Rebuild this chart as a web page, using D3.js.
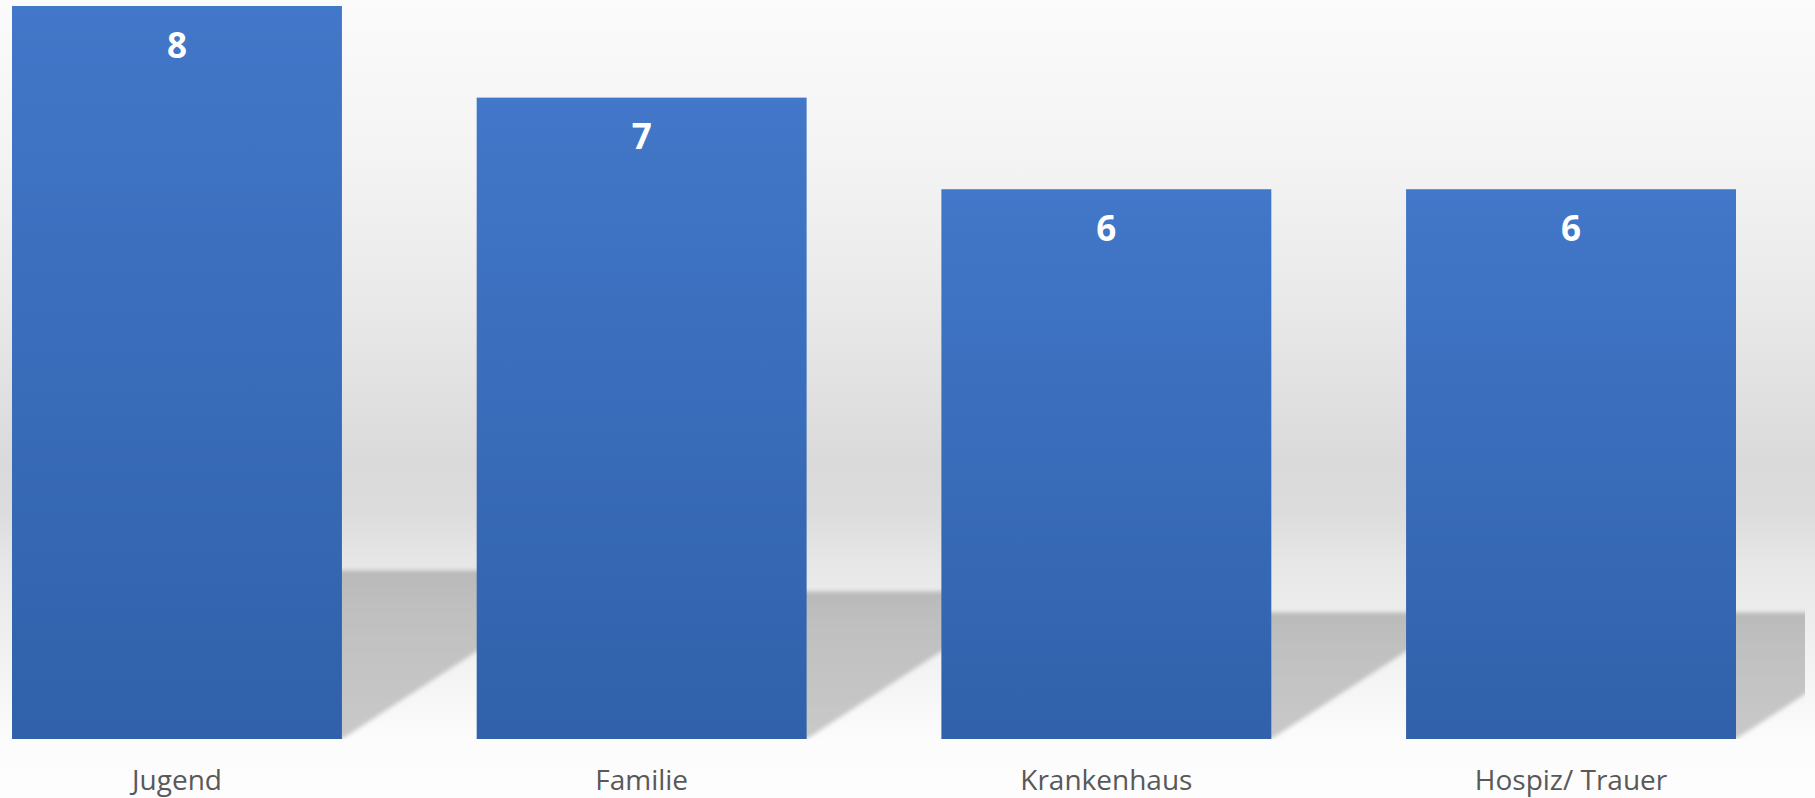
<!DOCTYPE html>
<html>
<head>
<meta charset="utf-8">
<script src="https://cdn.jsdelivr.net/npm/d3@7"></script>
<style>
  html, body { margin: 0; padding: 0; background: #ffffff; }
  svg { display: block; }
</style>
</head>
<body>
<svg id="chart" width="1815" height="798"></svg>
<script>
// Anzahl der Angebote je Bereich
const categories = ["Jugend", "Familie", "Krankenhaus", "Hospiz/ Trauer"];
const values = [8, 7, 6, 6];
const yMax = 8;

const W = 1815, H = 798;
const baseY = 739, topY = 6;

const svg = d3.select("#chart");
const defs = svg.append("defs");

// wall / floor background gradient
const bg = defs.append("linearGradient").attr("id", "bgGrad")
  .attr("x1", 0).attr("y1", 0).attr("x2", 0).attr("y2", 1);
[[0, "#fbfbfb"], [0.19, "#f4f4f4"], [0.38, "#e9e9e9"], [0.58, "#dadada"],
 [0.64, "#dcdcdc"], [0.70, "#e6e6e6"], [0.76, "#ececec"], [0.86, "#f5f5f5"],
 [0.93, "#fcfcfc"], [1, "#fdfdfd"]]
  .forEach(([o, c]) => bg.append("stop").attr("offset", o).attr("stop-color", c));

// bar fill gradient
const barGrad = defs.append("linearGradient").attr("id", "barGrad")
  .attr("x1", 0).attr("y1", 0).attr("x2", 0).attr("y2", 1);
barGrad.append("stop").attr("offset", 0).attr("stop-color", "#4277c9");
barGrad.append("stop").attr("offset", 1).attr("stop-color", "#3061aa");

// cast shadow gradient
const shGrad = defs.append("linearGradient").attr("id", "shGrad")
  .attr("x1", 0).attr("y1", 0).attr("x2", 0).attr("y2", 1);
shGrad.append("stop").attr("offset", 0).attr("stop-color", "#b9b9b9");
shGrad.append("stop").attr("offset", 0.2).attr("stop-color", "#bfbfbf");
shGrad.append("stop").attr("offset", 1).attr("stop-color", "#c9c9c9");

defs.append("filter").attr("id", "soft")
  .attr("x", "-10%").attr("y", "-10%").attr("width", "120%").attr("height", "120%")
  .append("feGaussianBlur").attr("stdDeviation", 2.2);

defs.append("clipPath").attr("id", "floorClip")
  .append("rect").attr("x", 0).attr("y", 0).attr("width", 1805).attr("height", baseY);

svg.append("rect").attr("width", W).attr("height", H).attr("fill", "url(#bgGrad)");

const x = d3.scaleBand().domain(categories).range([12, 1736])
  .paddingInner(0.29).paddingOuter(0);
const y = d3.scaleLinear().domain([0, yMax]).range([baseY, topY]);

// perspective shadows behind each bar
const shadowRatio = 0.23, slope = 0.65;
svg.append("g").attr("clip-path", "url(#floorClip)")
  .append("g").attr("filter", "url(#soft)")
  .selectAll("path").data(categories).join("path")
  .attr("fill", "url(#shGrad)")
  .attr("d", (c, i) => {
    const xl = x(c), xr = x(c) + x.bandwidth();
    const sh = (y(0) - y(values[i])) * shadowRatio;
    const dx = sh / slope;
    return `M${xl},${y(0)}L${xr},${y(0)}L${xr + dx},${y(0) - sh}L${xl + dx},${y(0) - sh}Z`;
  });

// bars
svg.append("g").selectAll("rect").data(categories).join("rect")
  .attr("x", c => x(c))
  .attr("y", (c, i) => y(values[i]))
  .attr("width", x.bandwidth())
  .attr("height", (c, i) => y(0) - y(values[i]))
  .attr("fill", "url(#barGrad)");

// value labels inside the bars
svg.append("g").selectAll("text").data(categories).join("text")
  .attr("x", c => x(c) + x.bandwidth() / 2)
  .attr("y", (c, i) => y(values[i]) + 51.5)
  .attr("text-anchor", "middle")
  .attr("font-family", "'Open Sans', sans-serif")
  .attr("font-weight", 700)
  .attr("font-size", 35)
  .attr("fill", "#ffffff")
  .text((c, i) => values[i]);

// category axis
const axis = svg.append("g").attr("transform", `translate(0,${baseY})`)
  .call(d3.axisBottom(x).tickSize(0).tickPadding(0));
axis.select(".domain").remove();
axis.selectAll("text")
  .attr("dy", null)
  .attr("y", 51)
  .attr("font-family", "'Open Sans', sans-serif")
  .attr("font-size", 28)
  .attr("fill", "#595959");
</script>
</body>
</html>
